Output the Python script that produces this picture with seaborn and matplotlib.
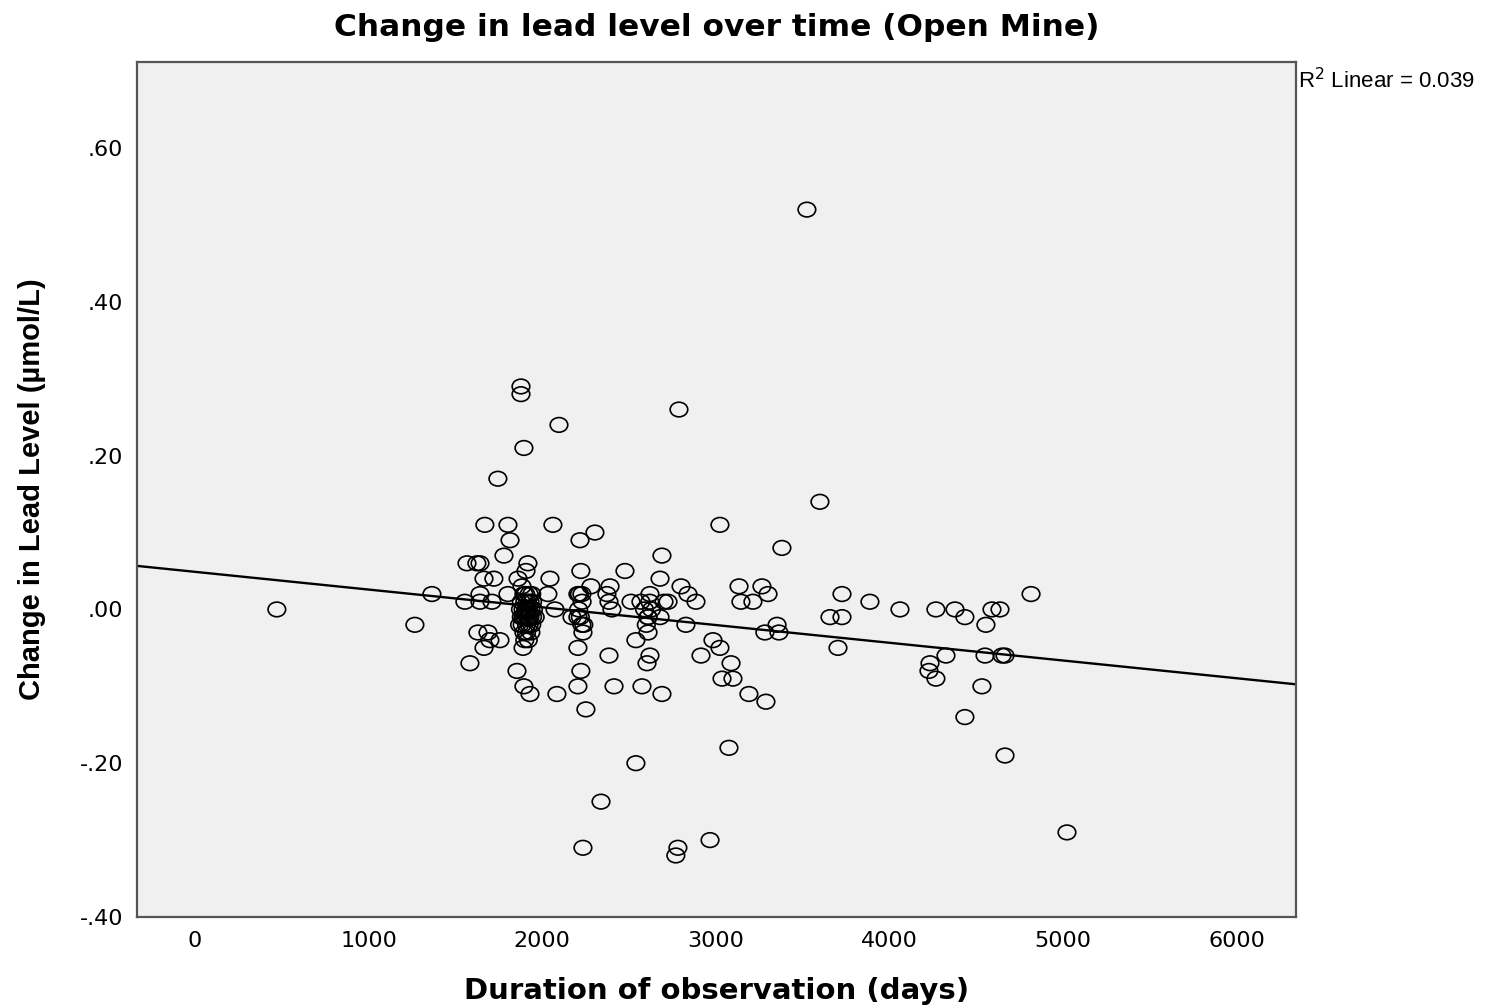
"""
Change in lead level over time (Open Mine) - scatter with linear fit.
"""

import numpy as np
import pandas as pd
import matplotlib
matplotlib.use("Agg")
import matplotlib.pyplot as plt
from matplotlib.path import Path
import seaborn as sns

# observation duration (days) and change in lead level (umol/L)
days = [
    472, 1267, 1365, 3525, 3600, 3381, 2788, 2097, 1878, 1878, 1895, 1745,
    1670, 1803, 2062, 3024, 1815, 2218, 2304, 2690, 1780, 1918, 1567, 1624,
    1642, 2477, 2223, 1907, 1665, 1722, 1861, 2045, 2679, 2281, 2391, 2800,
    3134, 3266, 1884, 3727, 4816, 3301, 2840, 2621, 2206, 2229, 2373, 2033,
    1642, 1803, 3888, 3145, 3214, 2886, 2702, 2725, 2512, 2569, 2385, 1555,
    1642, 1711, 4061, 4268, 4378, 4591, 4637, 2074, 2402, 3658, 3727, 4435,
    2610, 2679, 2172, 2206, 4556, 2828, 3353, 2229, 3283, 3364, 2235, 2610,
    1630, 1688, 2984, 2540, 1757, 1699, 1665, 3024, 2206, 3704, 1890, 2915,
    2385, 2621, 4326, 4551, 4649, 4666, 2604, 3088, 4234, 1584, 1855, 2223,
    4228, 3036, 3099, 4268, 1895, 2206, 2414, 2575, 4533, 1930, 2085, 2690,
    3191, 3289, 2252, 4435, 3076, 4666, 2540, 2339, 5023, 2967, 2235, 2782,
    2770,
    # dense cluster near 1900 days
    1880, 1890, 1900, 1910, 1920, 1930, 1895, 1905, 1915, 1925, 1935, 1945,
    1885, 1900, 1910, 1920, 1930, 1940, 1890, 1905, 1915, 1925, 1950, 1875,
    1880, 1935, 1945, 1910, 1920, 1900, 1870, 1960, 1895, 1940,
    # smaller clusters near 2200 and 2600 days
    2210, 2220, 2230, 2240, 2215, 2590, 2610, 2620, 2630, 2600,
]
change = [
    0.00, -0.02, 0.02, 0.52, 0.14, 0.08, 0.26, 0.24, 0.29, 0.28, 0.21, 0.17,
    0.11, 0.11, 0.11, 0.11, 0.09, 0.09, 0.10, 0.07, 0.07, 0.06, 0.06, 0.06,
    0.06, 0.05, 0.05, 0.05, 0.04, 0.04, 0.04, 0.04, 0.04, 0.03, 0.03, 0.03,
    0.03, 0.03, 0.03, 0.02, 0.02, 0.02, 0.02, 0.02, 0.02, 0.02, 0.02, 0.02,
    0.02, 0.02, 0.01, 0.01, 0.01, 0.01, 0.01, 0.01, 0.01, 0.01, 0.01, 0.01,
    0.01, 0.01, 0.00, 0.00, 0.00, 0.00, 0.00, 0.00, 0.00, -0.01, -0.01, -0.01,
    -0.01, -0.01, -0.01, -0.01, -0.02, -0.02, -0.02, -0.02, -0.03, -0.03, -0.03, -0.03,
    -0.03, -0.03, -0.04, -0.04, -0.04, -0.04, -0.05, -0.05, -0.05, -0.05, -0.05, -0.06,
    -0.06, -0.06, -0.06, -0.06, -0.06, -0.06, -0.07, -0.07, -0.07, -0.07, -0.08, -0.08,
    -0.08, -0.09, -0.09, -0.09, -0.10, -0.10, -0.10, -0.10, -0.10, -0.11, -0.11, -0.11,
    -0.11, -0.12, -0.13, -0.14, -0.18, -0.19, -0.20, -0.25, -0.29, -0.30, -0.31, -0.31,
    -0.32,
    0.01, 0.00, -0.01, -0.02, 0.00, -0.01, -0.03, 0.02, 0.01, -0.02, 0.00, -0.01,
    -0.02, 0.01, -0.03, -0.01, 0.01, -0.02, -0.01, 0.00, -0.01, 0.02, 0.00, 0.00,
    -0.01, -0.03, 0.01, 0.00, -0.04, -0.04, -0.02, -0.01, 0.02, 0.02,
    0.00, -0.01, 0.01, -0.02, 0.02, 0.00, -0.01, 0.01, 0.00, -0.02,
]

x_ticks = [0, 1000, 2000, 3000, 4000, 5000, 6000]
y_ticks = [0.60, 0.40, 0.20, 0.00, -0.20, -0.40]
y_tick_labels = [".60", ".40", ".20", ".00", "-.20", "-.40"]
r2_text = "R$^2$ Linear = 0.039"


def main() -> None:
    df = pd.DataFrame({"days": days, "change": change})

    sns.set_theme(style="white")
    plt.rcParams["font.family"] = ["DejaVu Sans"]
    plt.rcParams["text.color"] = "black"
    plt.rcParams["axes.labelcolor"] = "black"
    plt.rcParams["xtick.color"] = "black"
    plt.rcParams["ytick.color"] = "black"

    fig = plt.figure(figsize=(15.08, 10.08), dpi=100)
    ax = fig.add_axes([0.0908, 0.0903, 0.7686, 0.8482])
    ax.set_facecolor("#f0f0f0")
    # limits first so the fit line spans the whole plot area
    ax.set_xlim(-334, 6342)
    ax.set_ylim(-0.40, 0.712)

    # slightly wide open circle, like the original
    circ = Path.unit_circle()
    ring = Path(circ.vertices * np.array([1.2, 1.0]), circ.codes)

    sns.regplot(
        data=df, x="days", y="change", ax=ax, ci=None, truncate=False,
        marker=ring,
        scatter_kws=dict(s=160, facecolors="none", edgecolors="black",
                         linewidths=1.2, alpha=1),
        line_kws=dict(color="black", lw=1.7),
    )

    ax.set_xlim(-334, 6342)
    ax.set_ylim(-0.40, 0.712)
    ax.set_xticks(x_ticks)
    ax.set_yticks(y_ticks)
    ax.set_yticklabels(y_tick_labels)
    ax.tick_params(axis="both", direction="out", length=6, width=1,
                   color="#444444", labelsize=16, pad=4)

    for s in ax.spines.values():
        s.set_color("#555555")
        s.set_linewidth(1.6)

    ax.set_title("Change in lead level over time (Open Mine)",
                 fontsize=22.5, fontweight="bold", pad=19)
    ax.set_xlabel("Duration of observation (days)", fontsize=21,
                  fontweight="bold", labelpad=19)
    ax.set_ylabel("Change in Lead Level (µmol/L)", fontsize=21,
                  fontweight="bold", family="Liberation Sans", labelpad=24)

    ax.text(1.0015, 0.978, r2_text, transform=ax.transAxes, fontsize=16,
            ha="left", va="center", family="Liberation Sans")

    fig.savefig("out.png", dpi=100, facecolor="white")


if __name__ == "__main__":
    main()
